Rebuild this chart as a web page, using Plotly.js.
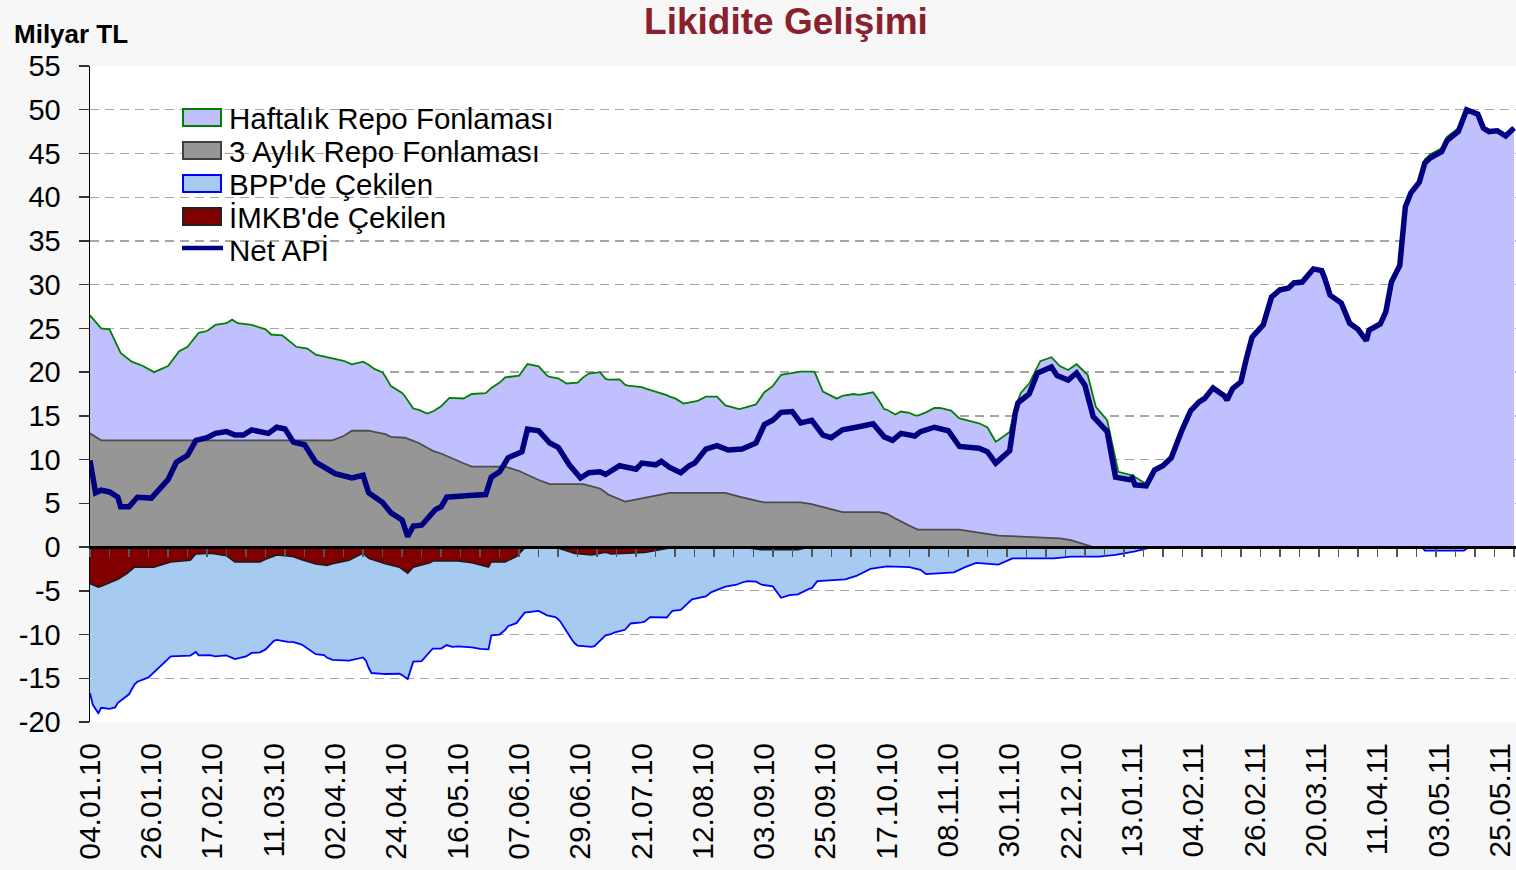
<!DOCTYPE html>
<html>
<head>
<meta charset="utf-8">
<script src="https://cdn.plot.ly/plotly-3.0.1.min.js"></script>
<style>
html,body{margin:0;padding:0;background:#F7F7F7;}
#chart{width:1516px;height:870px;}
</style>
</head>
<body>
<div id="chart"></div>
<script>
// ---------------- DATA (Milyar TL) ----------------
const ay3Dates = ['2010-01-04','2010-01-08','2010-04-01','2010-04-05','2010-04-08','2010-04-14','2010-04-20','2010-04-22','2010-04-27','2010-05-02','2010-05-07','2010-05-10','2010-05-14','2010-05-21','2010-06-02','2010-06-07','2010-06-12','2010-06-18','2010-06-30','2010-07-06','2010-07-09','2010-07-15','2010-07-23','2010-07-30','2010-08-20','2010-08-27','2010-09-03','2010-09-16','2010-09-20','2010-09-25','2010-10-01','2010-10-14','2010-10-17','2010-10-22','2010-10-28','2010-11-12','2010-11-16','2010-11-26','2010-12-16','2010-12-22','2010-12-26','2010-12-30','2011-05-30'];
const ay3 = [13.0,12.2,12.2,12.7,13.3,13.3,12.9,12.6,12.5,11.9,11.0,10.7,10.1,9.2,9.2,8.7,7.9,7.2,7.2,6.7,6.0,5.2,5.7,6.2,6.2,5.6,5.1,5.1,4.9,4.5,4.0,4.0,3.8,2.9,2.0,2.0,1.8,1.3,1.1,0.8,0.4,0.0,0.0];

const haftaDates = ['2010-01-04','2010-01-08','2010-01-11','2010-01-15','2010-01-19','2010-01-23','2010-01-27','2010-02-01','2010-02-05','2010-02-08','2010-02-12','2010-02-15','2010-02-18','2010-02-22','2010-02-24','2010-02-26','2010-03-03','2010-03-08','2010-03-10','2010-03-14','2010-03-19','2010-03-23','2010-03-26','2010-04-01','2010-04-05','2010-04-08','2010-04-12','2010-04-16','2010-04-19','2010-04-22','2010-04-26','2010-04-30','2010-05-05','2010-05-10','2010-05-13','2010-05-18','2010-05-21','2010-05-26','2010-05-28','2010-05-31','2010-06-02','2010-06-07','2010-06-10','2010-06-14','2010-06-17','2010-06-21','2010-06-24','2010-06-28','2010-07-02','2010-07-06','2010-07-08','2010-07-13','2010-07-16','2010-07-21','2010-07-24','2010-07-28','2010-07-31','2010-08-02','2010-08-05','2010-08-10','2010-08-13','2010-08-17','2010-08-20','2010-08-25','2010-08-31','2010-09-03','2010-09-06','2010-09-09','2010-09-15','2010-09-21','2010-09-24','2010-09-29','2010-10-01','2010-10-05','2010-10-07','2010-10-12','2010-10-16','2010-10-20','2010-10-22','2010-10-25','2010-10-27','2010-10-31','2010-11-03','2010-11-05','2010-11-09','2010-11-12','2010-11-19','2010-11-22','2010-11-25','2010-11-30','2010-12-02','2010-12-04','2010-12-07','2010-12-11','2010-12-15','2010-12-18','2010-12-21','2010-12-24','2010-12-28','2010-12-31','2011-01-04','2011-01-08','2011-01-13','2011-01-18','2011-01-21','2011-01-24','2011-01-27','2011-01-29','2011-01-31','2011-02-03','2011-02-06','2011-02-08','2011-02-11','2011-02-15','2011-02-16','2011-02-18','2011-02-21','2011-02-23','2011-02-25','2011-03-01','2011-03-04','2011-03-07','2011-03-10','2011-03-12','2011-03-15','2011-03-19','2011-03-22','2011-03-23','2011-03-25','2011-03-29','2011-04-01','2011-04-04','2011-04-07','2011-04-08','2011-04-12','2011-04-14','2011-04-16','2011-04-19','2011-04-21','2011-04-23','2011-04-26','2011-04-28','2011-04-30','2011-05-04','2011-05-06','2011-05-10','2011-05-13','2011-05-17','2011-05-19','2011-05-21','2011-05-24','2011-05-27','2011-05-29','2011-05-30'];
const hafta = [13.5,12.8,12.7,10.0,9.0,8.5,7.8,8.5,10.2,10.7,12.3,12.5,13.2,13.4,13.8,13.4,13.2,12.7,12.1,12.0,10.7,10.5,9.8,9.4,8.6,7.6,7.9,7.2,7.0,5.8,5.1,3.7,3.9,5.4,6.8,7.4,8.3,8.4,9.0,9.6,10.2,10.9,12.7,13.0,12.3,12.1,11.5,11.6,12.8,13.3,13.0,13.7,13.2,12.7,12.2,11.5,11.0,10.8,10.2,10.5,11.0,11.0,10.0,10.0,11.0,12.6,13.3,14.6,14.9,15.2,13.2,12.8,13.3,13.5,13.4,13.7,11.9,11.9,12.6,12.9,12.9,13.4,13.9,13.9,13.6,12.7,12.5,12.2,10.7,11.9,14.7,16.4,17.5,20.1,20.6,19.7,19.4,20.3,19.5,16.0,14.5,8.6,8.2,7.2,8.9,9.3,10.2,12.0,13.5,15.6,16.6,17.0,18.2,17.3,16.8,18.1,18.9,21.6,24.0,25.4,28.6,29.4,29.6,30.2,30.3,31.8,31.6,30.8,28.8,27.9,25.6,24.9,23.6,24.8,25.5,26.9,30.3,32.2,38.9,40.5,41.7,44.3,44.9,45.6,46.9,47.9,50.0,49.5,47.9,47.5,47.6,47.0,47.7,47.9];

const bppDates = ['2010-01-04','2010-01-05','2010-01-07','2010-01-08','2010-01-11','2010-01-13','2010-01-14','2010-01-18','2010-01-21','2010-01-25','2010-01-28','2010-02-02','2010-02-09','2010-02-11','2010-02-12','2010-02-18','2010-02-23','2010-02-25','2010-03-01','2010-03-03','2010-03-08','2010-03-11','2010-03-16','2010-03-21','2010-03-26','2010-03-29','2010-04-01','2010-04-06','2010-04-13','2010-04-15','2010-04-19','2010-04-26','2010-04-28','2010-04-30','2010-05-03','2010-05-07','2010-05-10','2010-05-12','2010-05-14','2010-05-24','2010-05-27','2010-05-28','2010-05-31','2010-06-03','2010-06-06','2010-06-09','2010-06-14','2010-06-17','2010-06-20','2010-06-22','2010-06-27','2010-06-28','2010-07-04','2010-07-08','2010-07-11','2010-07-15','2010-07-17','2010-07-22','2010-07-24','2010-07-30','2010-08-01','2010-08-04','2010-08-08','2010-08-13','2010-08-15','2010-08-20','2010-08-24','2010-08-28','2010-08-31','2010-09-02','2010-09-06','2010-09-09','2010-09-12','2010-09-15','2010-09-20','2010-09-22','2010-10-02','2010-10-06','2010-10-11','2010-10-17','2010-10-25','2010-10-29','2010-10-31','2010-11-10','2010-11-14','2010-11-18','2010-11-26','2010-12-01','2010-12-16','2010-12-22','2011-01-01','2011-01-07','2011-01-14','2011-01-19','2011-01-22','2011-04-27','2011-04-28','2011-05-12','2011-05-14','2011-05-30'];
const bpp = [-12.5,-13.7,-14.4,-13.9,-14.4,-14.5,-14.1,-14.0,-13.1,-12.6,-11.7,-10.8,-10.9,-11.2,-11.6,-11.7,-11.3,-11.1,-10.8,-10.4,-10.3,-9.7,-9.8,-9.7,-10.3,-10.3,-11.0,-11.4,-12.0,-13.0,-12.7,-12.1,-12.1,-10.8,-11.0,-10.0,-10.0,-9.6,-9.8,-9.6,-9.4,-8.4,-8.3,-7.5,-7.6,-7.4,-7.2,-7.7,-7.9,-8.4,-10.3,-10.5,-10.5,-9.5,-9.0,-8.7,-8.0,-7.9,-7.5,-7.9,-7.2,-7.1,-5.9,-5.6,-5.1,-4.5,-4.3,-3.8,-3.7,-4.0,-4.2,-5.5,-5.2,-5.1,-4.7,-3.9,-3.7,-3.3,-2.5,-2.2,-2.3,-2.6,-3.1,-2.9,-2.3,-1.8,-2.0,-1.3,-1.3,-1.1,-1.1,-0.9,-0.5,-0.1,0.0,0.0,-0.4,-0.4,0.0,0.0];

const imkbDates = ['2010-01-04','2010-01-07','2010-01-11','2010-01-14','2010-01-17','2010-01-20','2010-01-27','2010-02-02','2010-02-09','2010-02-11','2010-02-16','2010-02-22','2010-02-25','2010-03-06','2010-03-08','2010-03-12','2010-03-18','2010-03-25','2010-03-30','2010-04-01','2010-04-07','2010-04-12','2010-04-14','2010-04-20','2010-04-25','2010-04-28','2010-04-30','2010-05-06','2010-05-07','2010-05-16','2010-05-21','2010-05-27','2010-05-28','2010-06-02','2010-06-06','2010-06-09','2010-06-21','2010-06-26','2010-07-03','2010-07-08','2010-07-10','2010-07-21','2010-07-27','2010-07-31','2010-08-26','2010-09-01','2010-09-15','2010-09-19','2011-05-30'];
const imkb = [-4.2,-4.6,-4.1,-3.7,-3.1,-2.3,-2.3,-1.7,-1.5,-0.8,-0.7,-1.0,-1.7,-1.7,-1.4,-0.9,-1.1,-1.9,-2.1,-1.9,-1.5,-0.7,-1.3,-1.9,-2.3,-3.0,-2.3,-1.8,-1.6,-1.6,-1.8,-2.3,-1.7,-1.7,-1.1,-0.1,-0.1,-0.7,-0.9,-0.6,-0.8,-0.7,-0.3,-0.1,0.0,-0.3,-0.3,0.0,0.0];

const apiDates = ['2010-01-04','2010-01-06','2010-01-08','2010-01-11','2010-01-14','2010-01-15','2010-01-18','2010-01-21','2010-01-26','2010-01-29','2010-02-01','2010-02-04','2010-02-08','2010-02-11','2010-02-15','2010-02-18','2010-02-22','2010-02-25','2010-02-28','2010-03-03','2010-03-09','2010-03-12','2010-03-15','2010-03-18','2010-03-22','2010-03-26','2010-03-30','2010-04-02','2010-04-08','2010-04-12','2010-04-14','2010-04-19','2010-04-22','2010-04-26','2010-04-28','2010-04-30','2010-05-03','2010-05-05','2010-05-08','2010-05-10','2010-05-12','2010-05-20','2010-05-26','2010-05-28','2010-05-31','2010-06-03','2010-06-08','2010-06-10','2010-06-14','2010-06-18','2010-06-21','2010-06-25','2010-06-29','2010-07-02','2010-07-06','2010-07-08','2010-07-13','2010-07-19','2010-07-21','2010-07-26','2010-07-28','2010-07-31','2010-08-04','2010-08-07','2010-08-09','2010-08-13','2010-08-17','2010-08-21','2010-08-26','2010-08-31','2010-09-03','2010-09-06','2010-09-09','2010-09-13','2010-09-16','2010-09-20','2010-09-24','2010-09-27','2010-10-01','2010-10-06','2010-10-12','2010-10-16','2010-10-19','2010-10-22','2010-10-27','2010-10-29','2010-11-03','2010-11-08','2010-11-12','2010-11-19','2010-11-22','2010-11-25','2010-11-30','2010-12-02','2010-12-03','2010-12-07','2010-12-10','2010-12-15','2010-12-17','2010-12-21','2010-12-24','2010-12-27','2010-12-30','2011-01-04','2011-01-07','2011-01-12','2011-01-13','2011-01-14','2011-01-18','2011-01-21','2011-01-24','2011-01-27','2011-01-29','2011-01-31','2011-02-03','2011-02-06','2011-02-08','2011-02-11','2011-02-15','2011-02-16','2011-02-18','2011-02-21','2011-02-23','2011-02-25','2011-03-01','2011-03-04','2011-03-07','2011-03-10','2011-03-12','2011-03-15','2011-03-19','2011-03-22','2011-03-23','2011-03-25','2011-03-29','2011-04-01','2011-04-04','2011-04-07','2011-04-08','2011-04-12','2011-04-14','2011-04-16','2011-04-19','2011-04-21','2011-04-23','2011-04-26','2011-04-28','2011-04-30','2011-05-04','2011-05-06','2011-05-10','2011-05-13','2011-05-17','2011-05-19','2011-05-21','2011-05-24','2011-05-27','2011-05-29','2011-05-30'];
const api = [9.9,6.2,6.5,6.3,5.7,4.6,4.6,5.7,5.6,6.7,7.7,9.7,10.5,12.2,12.5,13.0,13.2,12.8,12.8,13.4,13.0,13.7,13.5,12.0,11.7,9.7,9.0,8.4,7.9,8.2,6.2,5.1,3.9,3.1,1.2,2.4,2.5,3.3,4.3,4.6,5.7,5.9,6.0,8.0,8.6,10.2,10.9,13.5,13.3,11.9,11.4,9.4,7.9,8.5,8.6,8.3,9.3,8.9,9.6,9.4,9.8,9.1,8.5,9.3,9.6,11.2,11.6,11.1,11.2,11.9,14.0,14.5,15.4,15.5,14.2,14.5,12.8,12.5,13.4,13.7,14.1,12.6,12.2,13.0,12.7,13.2,13.7,13.3,11.5,11.3,10.9,9.6,11.0,15.3,16.5,17.5,19.9,20.6,19.6,19.1,19.9,18.5,14.9,13.2,8.0,7.7,7.9,7.1,7.0,8.8,9.3,10.2,12.0,13.5,15.6,16.6,17.0,18.2,17.3,16.8,18.1,18.9,21.6,24.0,25.4,28.6,29.4,29.6,30.2,30.3,31.8,31.6,30.8,28.8,27.9,25.6,24.9,23.6,24.8,25.5,26.9,30.3,32.2,38.9,40.5,41.7,43.9,44.5,45.2,46.5,47.5,50.0,49.5,47.9,47.5,47.6,47.0,47.7,47.9];

const tickDates = ['2010-01-04','2010-01-26','2010-02-17','2010-03-11','2010-04-02','2010-04-24','2010-05-16','2010-06-07','2010-06-29','2010-07-21','2010-08-12','2010-09-03','2010-09-25','2010-10-17','2010-11-08','2010-11-30','2010-12-22','2011-01-13','2011-02-04','2011-02-26','2011-03-20','2011-04-11','2011-05-03','2011-05-25'];
const tickLabels = ['04.01.10','26.01.10','17.02.10','11.03.10','02.04.10','24.04.10','16.05.10','07.06.10','29.06.10','21.07.10','12.08.10','03.09.10','25.09.10','17.10.10','08.11.10','30.11.10','22.12.10','13.01.11','04.02.11','26.02.11','20.03.11','11.04.11','03.05.11','25.05.11'];
const yTickVals = [-20,-15,-10,-5,0,5,10,15,20,25,30,35,40,45,50,55];
const yTickLabels = ['-20','-15','-10','-5','0','5','10','15','20','25','30','35','40','45','50','55'];

const seriesNames = ['Haftalık Repo Fonlaması','3 Aylık Repo Fonlaması',"BPP'de Çekilen","İMKB'de Çekilen",'Net APİ'];

// ---------------- STYLE ----------------
const FONT = 'Liberation Sans, Arial, sans-serif';
const PL = 90, PT = 66, PW = 1426, PH = 656;
const px2x = p => (p - PL) / PW;
const px2y = p => (PT + PH - p) / PH;

const traces = [
  {name: seriesNames[3], x: imkbDates, y: imkb, type: 'scatter', mode: 'lines',
   stackgroup: 'neg', stackgaps: 'interpolate',
   line: {color: '#1A1A1A', width: 1.5}, fillcolor: '#800000', hoverinfo: 'skip'},
  {name: seriesNames[2], x: bppDates, y: bpp, type: 'scatter', mode: 'lines',
   stackgroup: 'neg', stackgaps: 'interpolate',
   line: {color: '#0000FF', width: 1.8}, fillcolor: '#A6CAF0', hoverinfo: 'skip'},
  {name: seriesNames[1], x: ay3Dates, y: ay3, type: 'scatter', mode: 'lines',
   stackgroup: 'pos', stackgaps: 'interpolate',
   line: {color: '#4D4D4D', width: 1.8}, fillcolor: '#969696', hoverinfo: 'skip'},
  {name: seriesNames[0], x: haftaDates, y: hafta, type: 'scatter', mode: 'lines',
   stackgroup: 'pos', stackgaps: 'interpolate',
   line: {color: '#008000', width: 1.8}, fillcolor: '#C0C0FF', hoverinfo: 'skip'},
  {name: seriesNames[4], x: apiDates, y: api, type: 'scatter', mode: 'lines',
   line: {color: '#000080', width: 5.5}, hoverinfo: 'skip'},
  {x: [apiDates[0]], y: [null], xaxis: 'x2', yaxis: 'y', type: 'scatter', mode: 'lines',
   showlegend: false, hoverinfo: 'skip'}
];

// manual legend (Excel style boxes)
const legendBoxes = [
  {fill: '#C0C0FF', line: '#008000'},
  {fill: '#969696', line: '#404040'},
  {fill: '#A6CAF0', line: '#0000FF'},
  {fill: '#800000', line: '#222222'}
];
const legendRowsY = [117.5, 150.5, 183.5, 216.5, 249];
const shapes = [];
const annotations = [];
legendBoxes.forEach((b, i) => {
  const yc = legendRowsY[i];
  shapes.push({type: 'rect', xref: 'paper', yref: 'paper',
    x0: px2x(183), x1: px2x(221), y0: px2y(yc - 8.5), y1: px2y(yc + 8.5),
    fillcolor: b.fill, line: {color: b.line, width: 2}});
});
shapes.push({type: 'line', xref: 'paper', yref: 'paper',
  x0: px2x(182), x1: px2x(223), y0: px2y(248), y1: px2y(248),
  line: {color: '#000080', width: 4.5}});
seriesNames.forEach((n, i) => {
  annotations.push({text: n, xref: 'paper', yref: 'paper', x: px2x(227), y: px2y(legendRowsY[i] + 1),
    xanchor: 'left', yanchor: 'middle', showarrow: false,
    font: {family: FONT, size: 29.5, color: '#000000'}});
});
annotations.push({text: '<b>Milyar TL</b>', xref: 'paper', yref: 'paper', x: px2x(12), y: px2y(34),
  xanchor: 'left', yanchor: 'middle', showarrow: false,
  font: {family: FONT, size: 26, color: '#000000'}});

const layout = {
  width: 1516, height: 870,
  margin: {l: PL, r: 0, t: PT, b: 870 - PT - PH, pad: 0},
  paper_bgcolor: '#F7F7F7', plot_bgcolor: '#FFFFFF',
  font: {family: FONT, color: '#000000'},
  showlegend: false,
  title: {text: '<b>Likidite Gelişimi</b>', font: {family: FONT, size: 37, color: '#8A1F2E'},
          x: 786 / 1516, xref: 'container', xanchor: 'center',
          y: 1 - 21 / 870, yref: 'container', yanchor: 'middle'},
  xaxis: {type: 'date', range: ['2010-01-04', '2011-05-30 17:00'],
          tickmode: 'array', tickvals: tickDates, ticktext: tickLabels,
          tickangle: -90, tickfont: {family: FONT, size: 30, color: '#000000'},
          ticks: '', showline: false, showgrid: false, zeroline: false,
          ticklabelstandoff: 14, fixedrange: true},
  xaxis2: {type: 'date', range: ['2010-01-04', '2011-05-30 17:00'], overlaying: 'x',
           anchor: 'free', position: 20 / 75, side: 'bottom',
           showline: true, linecolor: '#000000', linewidth: 3,
           ticks: 'outside', ticklen: 8, tickwidth: 1.5, tickcolor: '#555555',
           tick0: '2010-01-04', dtick: 7 * 86400000,
           showticklabels: false, showgrid: false, zeroline: false, fixedrange: true},
  yaxis: {range: [-20, 55], tickmode: 'array', tickvals: yTickVals, ticktext: yTickLabels,
          tickfont: {family: FONT, size: 29, color: '#000000'},
          showline: true, linecolor: '#000000', linewidth: 1.5,
          ticks: 'outside', ticklen: 10, tickwidth: 1.5, tickcolor: '#333333',
          showgrid: true, gridcolor: '#A6A6A6', gridwidth: 1.3, griddash: '9px,6px',
          zeroline: false, ticklabelstandoff: 12, fixedrange: true},
  shapes: shapes,
  annotations: annotations
};

Plotly.newPlot('chart', traces, layout, {displayModeBar: false, staticPlot: true});
</script>
</body>
</html>
